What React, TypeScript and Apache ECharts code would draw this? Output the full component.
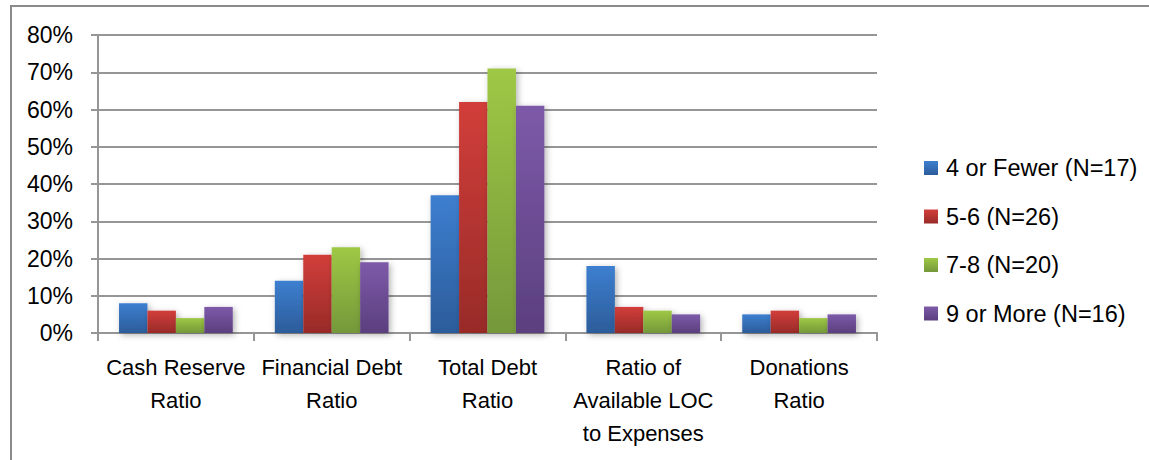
import React, { useEffect, useRef } from "react";
import * as echarts from "echarts";

const categories = [
  "Cash Reserve\nRatio",
  "Financial Debt\nRatio",
  "Total Debt\nRatio",
  "Ratio of\nAvailable LOC\nto Expenses",
  "Donations\nRatio",
];
const seriesNames = ["4 or Fewer (N=17)", "5-6 (N=26)", "7-8 (N=20)", "9 or More (N=16)"];
const fewer4 = [0.08, 0.14, 0.37, 0.18, 0.05];
const five6 = [0.06, 0.21, 0.62, 0.07, 0.06];
const seven8 = [0.04, 0.23, 0.71, 0.06, 0.04];
const more9 = [0.07, 0.19, 0.61, 0.05, 0.05];
const seriesValues = [fewer4, five6, seven8, more9];
const yTicks = [0, 0.1, 0.2, 0.3, 0.4, 0.5, 0.6, 0.7, 0.8];

const colors: [string, string][] = [
  ["#3d7fd0", "#2c5c9a"],
  ["#d23e3a", "#982b28"],
  ["#9fc845", "#74983a"],
  ["#7d5aa9", "#5b3f7e"],
];

const FONT = "Liberation Sans";

export default function App() {
  const ref = useRef<HTMLDivElement>(null);
  useEffect(() => {
    if (!ref.current) return;
    const chart = echarts.init(ref.current, undefined, { renderer: "svg" });
    chart.setOption({
      animation: false,
      backgroundColor: "#ffffff",
      graphic: [
        {
          type: "rect",
          shape: { x: 11, y: 6, width: 1160, height: 480 },
          style: { fill: "none", stroke: "#8a8a8a", lineWidth: 2 },
          silent: true,
          z: -1,
        },
      ],
      grid: { left: 98, right: 272, top: 35, bottom: 127, containLabel: false },
      legend: {
        orient: "vertical",
        left: 919,
        top: 151,
        itemWidth: 14,
        itemHeight: 14,
        itemGap: 24.5,
        icon: "rect",
        textStyle: {
          fontFamily: FONT,
          fontSize: 23.5,
          color: "#000",
          lineHeight: 24,
          padding: [0, 0, 0, 3],
        },
        data: seriesNames,
      },
      xAxis: {
        type: "category",
        data: categories,
        axisLine: { lineStyle: { color: "#969696", width: 2 } },
        axisTick: { show: true, length: 8, lineStyle: { color: "#969696", width: 2 } },
        axisLabel: {
          interval: 0,
          fontFamily: FONT,
          fontSize: 22,
          color: "#000",
          lineHeight: 33,
          margin: 18,
        },
      },
      yAxis: {
        type: "value",
        min: 0,
        max: 0.8,
        interval: 0.1,
        axisLine: { show: true, lineStyle: { color: "#969696", width: 2 } },
        axisTick: { show: true, length: 7, lineStyle: { color: "#969696", width: 2 } },
        splitLine: { lineStyle: { color: "#969696", width: 2 } },
        axisLabel: {
          fontFamily: FONT,
          fontSize: 23,
          color: "#000",
          margin: 25,
          formatter: (v: number) => {
            const t = yTicks.find((x) => Math.abs(x - v) < 1e-9);
            return Math.round((t ?? v) * 100) + "%";
          },
        },
      },
      series: seriesNames.map((name, i) => ({
        name,
        type: "bar",
        data: seriesValues[i],
        barGap: "0%",
        barCategoryGap: "27%",
        itemStyle: {
          color: new echarts.graphic.LinearGradient(0, 0, 0, 1, [
            { offset: 0, color: colors[i][0] },
            { offset: 1, color: colors[i][1] },
          ]),
          shadowBlur: 6,
          shadowColor: "rgba(0,0,0,0.3)",
          shadowOffsetX: 2,
          shadowOffsetY: 2,
        },
      })),
    });
    return () => chart.dispose();
  }, []);
  return (
    <div
      ref={ref}
      style={{ position: "fixed", left: 0, top: 0, width: 1149, height: 460 }}
    />
  );
}
